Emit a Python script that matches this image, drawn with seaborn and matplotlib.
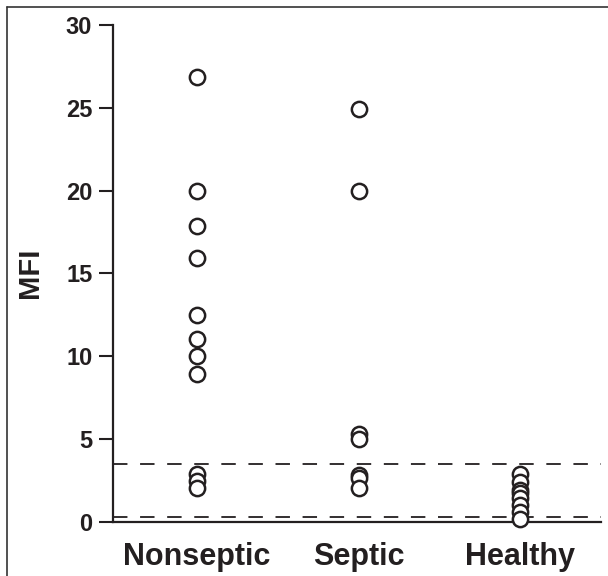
import numpy as np
import pandas as pd
import matplotlib
matplotlib.use("Agg")
import matplotlib.pyplot as plt
import seaborn as sns
from matplotlib.lines import Line2D

# ==========================================
# DATA
# ==========================================
GROUPS = ["Nonseptic", "Septic", "Healthy"]
nonseptic_mfi = [26.85, 19.95, 17.85, 15.9, 12.5, 11.0, 10.0, 8.9, 2.9, 2.45, 2.0]
septic_mfi = [24.9, 19.95, 5.3, 5.0, 2.8, 2.65, 2.0]
healthy_mfi = [2.9, 2.4, 1.9, 1.7, 1.4, 1.0, 0.6, 0.15]
CUTOFFS = [3.5, 0.25]
Y_TICKS = [0, 5, 10, 15, 20, 25, 30]

INK = "#231f20"

df = pd.DataFrame({
    "group": ["Nonseptic"] * len(nonseptic_mfi) + ["Septic"] * len(septic_mfi) + ["Healthy"] * len(healthy_mfi),
    "MFI": nonseptic_mfi + septic_mfi + healthy_mfi,
})

sns.set_style("white")
plt.rcParams["font.family"] = ["Liberation Sans", "DejaVu Sans"]
plt.rcParams["font.weight"] = "bold"

fig = plt.figure(figsize=(6.08, 5.76), dpi=100)
ax = fig.add_axes([0.186, 0.0946, 0.8025, 0.862])

# cutoff lines behind the points
for c in CUTOFFS:
    ax.axhline(c, color=INK, lw=1.3, linestyle=(0, (8, 7)), zorder=1)

sns.stripplot(data=df, x="group", y="MFI", order=GROUPS, jitter=False,
              color="white", edgecolor=INK, linewidth=1.8, size=11, ax=ax, zorder=3)
for coll in ax.collections:
    coll.set_clip_on(False)

ax.set_xlim(-0.52, 2.5)
ax.set_ylim(0, 30)
ax.set_yticks(Y_TICKS)
ax.set_xlabel("")
ax.set_ylabel("MFI", fontsize=21, fontweight="bold", color=INK, labelpad=16)

for side in ["top", "right"]:
    ax.spines[side].set_visible(False)
for side in ["left", "bottom"]:
    ax.spines[side].set_color(INK)
    ax.spines[side].set_linewidth(1.6)

ax.tick_params(axis="y", direction="out", length=10, width=1.5, color=INK,
               labelsize=17, labelcolor=INK, pad=5, left=True)
ax.tick_params(axis="x", length=0, labelsize=22, labelcolor=INK, pad=15)
for lbl in ax.get_xticklabels() + ax.get_yticklabels():
    lbl.set_fontweight("bold")

# partial frame around the figure (left and top edges)
fig.add_artist(Line2D([0.0115, 0.0115], [0.0, 0.988], transform=fig.transFigure, color="#333333", lw=1.2))
fig.add_artist(Line2D([0.0115, 1.0], [0.988, 0.988], transform=fig.transFigure, color="#333333", lw=1.2))

fig.savefig("out.png", dpi=100)
